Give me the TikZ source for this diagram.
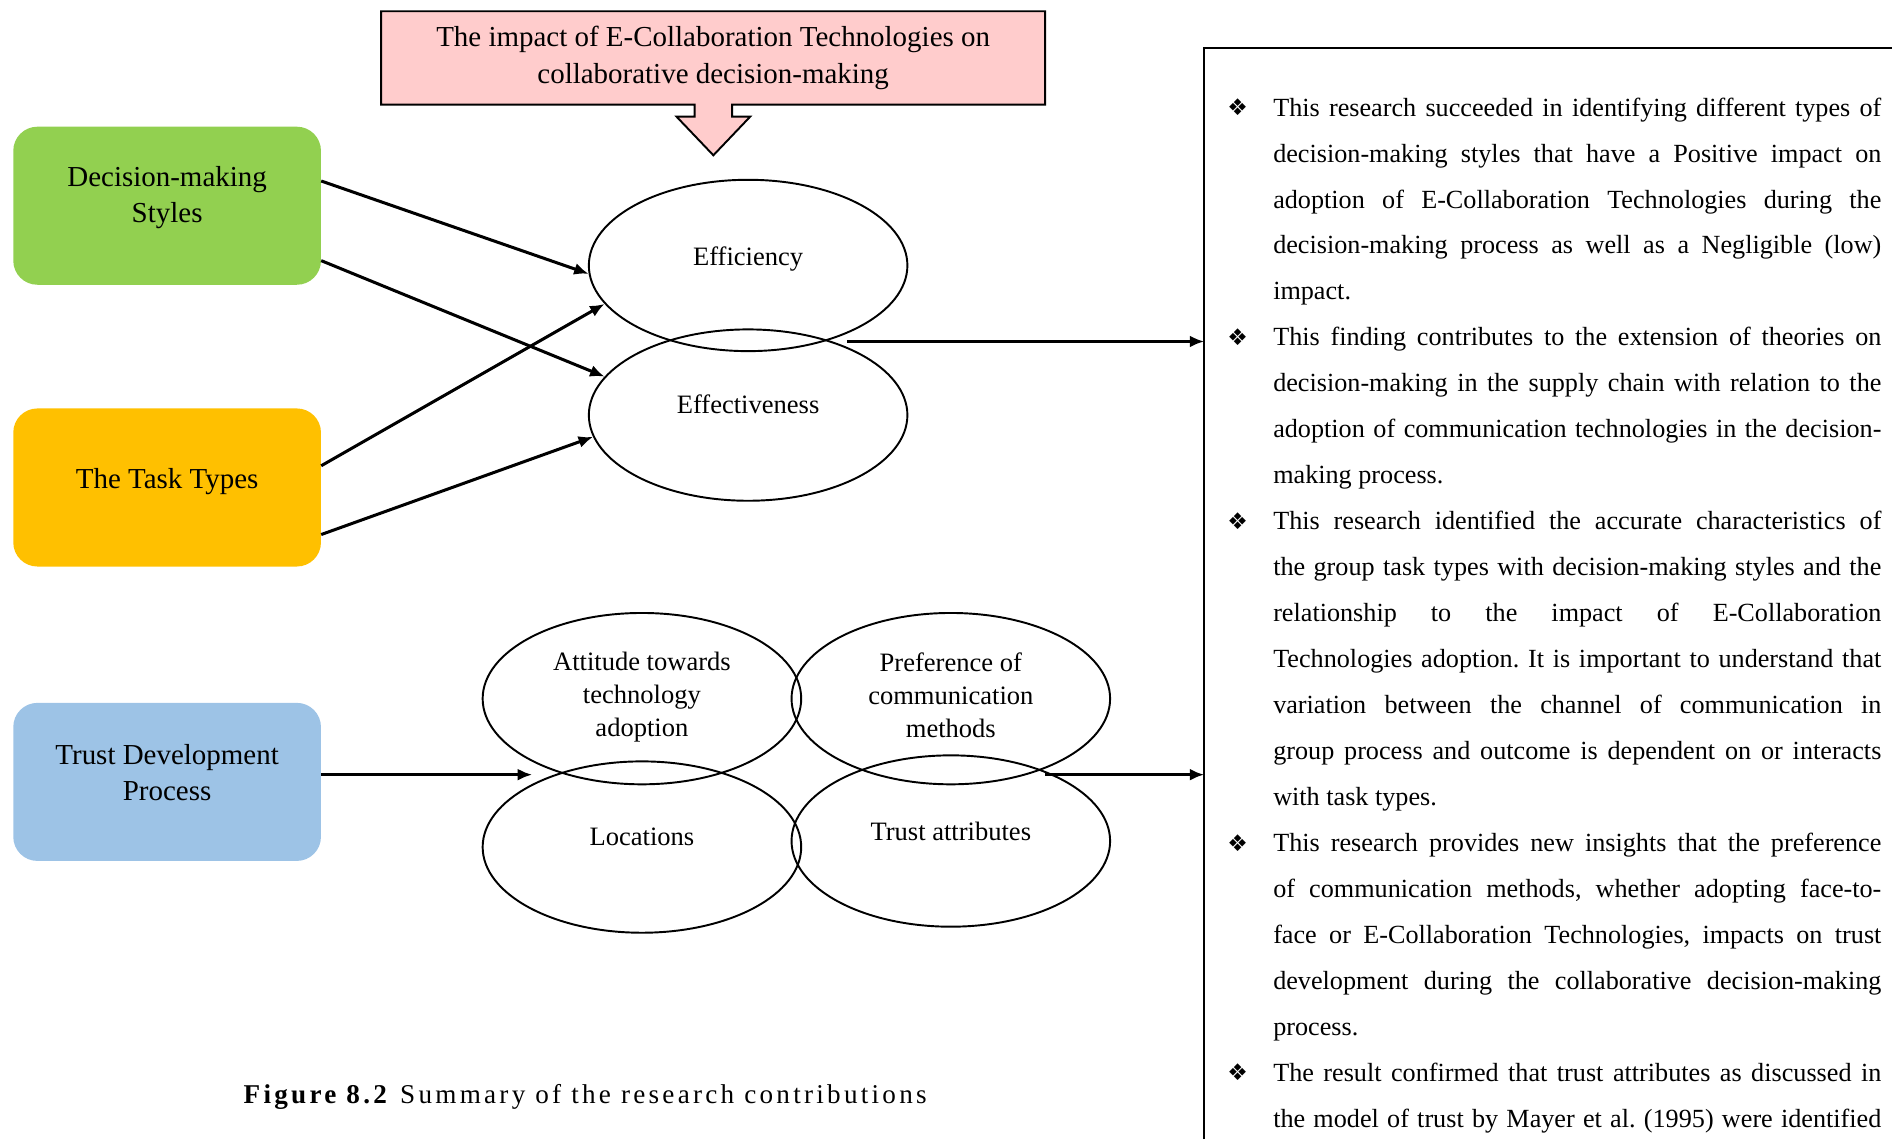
\documentclass[tikz,border=0pt]{standalone}
\usepackage{fontspec}
\setmainfont{Liberation Serif}
\newfontfamily\dingfont{DejaVu Sans}
\usepackage{tikz}
\usetikzlibrary{shapes.geometric}
\usetikzlibrary{arrows.meta}
\usetikzlibrary{backgrounds}
\definecolor{leafgreen}{HTML}{92D050}
\definecolor{amber}{HTML}{FFC000}
\definecolor{skyblue}{HTML}{9DC3E6}
\definecolor{blush}{HTML}{FFCCCC}

% one finding in the right panel, with its diamond bullet
\newcommand{\finding}{\noindent\llap{\makebox[38pt][l]{\raisebox{0.5pt}{\dingfont\fontsize{19}{19}\selectfont ❖}}}\rule{0pt}{16pt}}

\begin{document}
\begin{tikzpicture}[x=1pt, y=-1pt,
	factor/.style={rectangle, rounded corners=20pt, minimum width=255pt, minimum height=131pt, inner sep=0pt},
	ring/.style={ellipse, draw, line width=1.6pt, minimum width=264pt, minimum height=142pt, inner sep=0pt},
	link/.style={-{Latex[length=12pt,width=10pt]}, line width=2.5pt},
	every label/.style={align=center, inner sep=0pt},
	boxtext/.style={font=\fontsize{24}{30}\selectfont},
	ringtext/.style={font=\fontsize{22}{27.5}\selectfont}]
	\useasboundingbox (0,0) rectangle (1568,944);
	
	% title box with its down arrow
	\node[minimum width=550pt, minimum height=77pt, inner sep=0pt, align=center, font=\fontsize{24}{30}\selectfont] (impact) at (591,48) {The impact of E-Collaboration Technologies on\\collaborative decision-making};
	\begin{scope}[on background layer]
		\draw[fill=blush, line width=1.6pt] (impact.north west) -- (impact.north east) -- (impact.south east)
			-- ++(-259.5,0) -- ++(0,10) -- ++(15,0) -- ++(-30.5,32) -- ++(-30.5,-32) -- ++(15,0) -- ++(0,-10) -- (impact.south west) -- cycle;
	\end{scope}
	
	% draw factors
	\node[factor, fill=leafgreen, label={[boxtext, yshift=6.5pt]center:Decision-making\\Styles}] (dms) at (138.5,170.5) {};
	\node[factor, fill=amber, label={[boxtext, yshift=5pt]center:The Task Types}] (task) at (138.5,404) {};
	\node[factor, fill=skyblue, label={[boxtext, yshift=8pt]center:Trust Development\\Process}] (trustdev) at (138.5,648) {};
	
	% draw outcomes
	\node[ring, label={[ringtext, yshift=5pt]center:Efficiency}] (effic) at (620,220) {};
	\node[ring, label={[ringtext, yshift=9pt]center:Effectiveness}] (effect) at (620,344) {};
	
	% trust development
	\node[ring, label={[ringtext, yshift=1.5pt]center:Attitude towards\\technology\\adoption}] (attitude) at (532,579) {};
	\node[ring, label={[ringtext, yshift=3pt]center:Preference of\\communication\\methods}] (prefer) at (788,579) {};
	\node[ring, label={[ringtext, yshift=8.5pt]center:Locations}] (locat) at (532,702) {};
	\node[ring, label={[ringtext, yshift=8pt]center:Trust attributes}] (attrib) at (788,697) {};
	
	% right panel
	\coordinate (panel) at (998,40);
	\draw[line width=1.4pt] (998,944) |- (1568,40);
	\node[anchor=north west, inner sep=0pt, text width=504pt, align=justify, font=\fontsize{21.7}{38.1}\selectfont] (findings) at (1055,80) {%
		\tolerance=10000 \hbadness=10000 \hyphenpenalty=10000 \frenchspacing%
		\finding This research succeeded in identifying different types of\linebreak decision-making styles that have a Positive impact on\linebreak adoption of E-Collaboration Technologies during the\linebreak decision-making process as well as a Negligible (low)\linebreak impact.\par
		\finding This finding contributes to the extension of theories on\linebreak decision-making in the supply chain with relation to the\linebreak adoption of communication technologies in the decision-\linebreak making process.\par
		\finding This research identified the accurate characteristics of\linebreak the group task types with decision-making styles and the\linebreak relationship to the impact of E-Collaboration\linebreak Technologies adoption. It is important to understand that\linebreak variation between the channel of communication in\linebreak group process and outcome is dependent on or interacts\linebreak with task types.\par
		\finding This research provides new insights that the preference\linebreak of communication methods, whether adopting face-to-\linebreak face or E-Collaboration Technologies, impacts on trust\linebreak development during the collaborative decision-making\linebreak process.\par
		\finding The result confirmed that trust attributes as discussed in\linebreak the model of trust by Mayer et al. (1995) were identified\parfillskip=0pt\par};
	
	% draw arrows
	\coordinate (effout) at (702,283);
	\coordinate (trustin) at (441,642);
	\coordinate (trustout) at (866,642);
	\draw[link] ([yshift=20.5pt]dms.east) -- (effic.183);
	\draw[link] ([yshift=-45.5pt]dms.east) -- (effect.165);
	\draw[link] ([yshift=18pt]task.east) -- (effic.195);
	\draw[link] ([yshift=-39pt]task.east) -- (effect.188);
	\draw[link] (effout) -- (effout -| panel);
	\draw[link] ([yshift=6pt]trustdev.east) -- (trustin);
	\draw[link] (trustout) -- (trustout -| panel);
	
	% caption
	\node[font=\fontsize{22.5}{26}\selectfont] (caption) at (485,909) {\addfontfeature{LetterSpace=12}\textbf{Figure 8.2} Summary of the research contributions};
\end{tikzpicture}
\end{document}
